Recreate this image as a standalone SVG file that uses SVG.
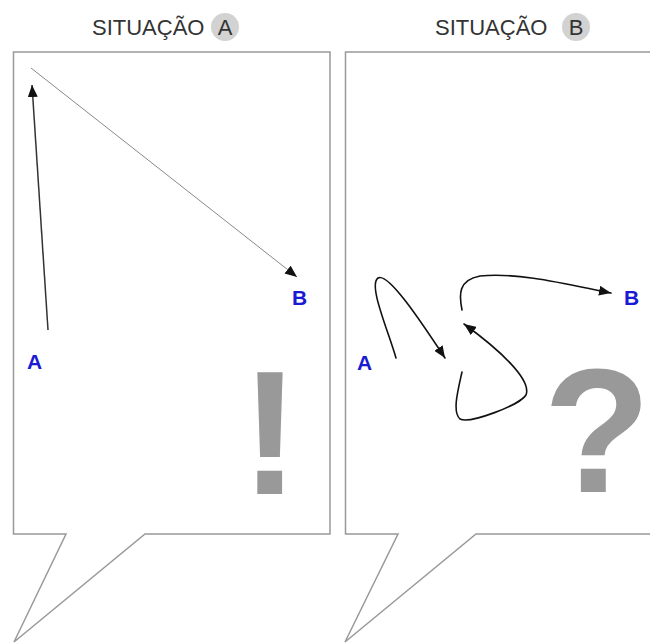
<svg xmlns="http://www.w3.org/2000/svg" width="650" height="643" viewBox="0 0 650 643">
<style>
.bubble{fill:#fff;stroke:#999;stroke-width:1.5}
.title{font-family:"Liberation Sans",Arial,sans-serif;font-size:22px;fill:#333}
.badge{fill:#d2d2d2}
.lbl{font-family:"Liberation Sans",Arial,sans-serif;font-size:21px;font-weight:bold;fill:#1a1ad2}
.big{font-family:"Liberation Sans",Arial,sans-serif;font-size:176px;font-weight:bold;fill:#999;text-anchor:middle}
.ink{fill:none;stroke:#111;stroke-width:1.6;stroke-linecap:round}
</style>
<defs>
<marker id="ah" markerUnits="userSpaceOnUse" markerWidth="12" markerHeight="10" refX="12" refY="5" orient="auto" viewBox="0 0 12 10">
<path d="M0,0 L12,5 L0,10 z" fill="#111"/>
</marker>
</defs>
<rect width="650" height="643" fill="#fff"/>
<g id="situacao-a">
<path class="bubble" d="M13.5,52 H330 V534 H145 L14,642 L66,534 H13.5 Z"/>
<text class="title" x="92" y="35">SITUAÇÃO</text>
<circle class="badge" cx="225" cy="27" r="14"/>
<text class="title" x="225" y="35" text-anchor="middle">A</text>
<text class="lbl" x="27" y="369">A</text>
<text class="lbl" x="292" y="305">B</text>
<text class="big" x="270" y="494">!</text>
</g>
<g id="situacao-b">
<path class="bubble" d="M345.5,52 H662 V534 H476 L345,642 L398,534 H345.5 Z"/>
<text class="title" x="435" y="35">SITUAÇÃO</text>
<circle class="badge" cx="576" cy="27" r="14"/>
<text class="title" x="576" y="35" text-anchor="middle">B</text>
<text class="lbl" x="357" y="370">A</text>
<text class="lbl" x="624" y="305">B</text>
<text class="big" x="597" y="492">?</text>
</g>
<g id="connectors">
<line x1="48" y1="330" x2="32" y2="85" stroke="#333" stroke-width="1.5" marker-end="url(#ah)"/>
<line x1="31" y1="68" x2="297" y2="277" stroke="#888" stroke-width="1" marker-end="url(#ah)"/>
<path class="ink" d="M396,358 C388,330 368,285 378,278 C388,272 420,320 445,358" marker-end="url(#ah)"/>
<path class="ink" d="M462,372 C458,390 452,412 460,419 C470,424 520,405 526,395 C532,380 500,350 464,324" marker-end="url(#ah)"/>
<path class="ink" d="M462,310 C459,295 458,280 480,276 C520,272 570,285 611,293" marker-end="url(#ah)"/>
</g>
</svg>
